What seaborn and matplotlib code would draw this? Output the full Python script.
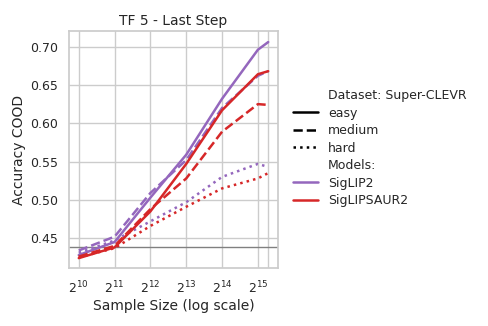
import numpy as np
import pandas as pd
import matplotlib
matplotlib.use("Agg")
import matplotlib.pyplot as plt
from matplotlib.lines import Line2D
import seaborn as sns

sample_sizes = [1024, 2048, 4096, 8192, 16384, 32768, 40000]
tick_labels = ["$2^{10}$", "$2^{11}$", "$2^{12}$", "$2^{13}$", "$2^{14}$", "$2^{15}$", ""]
models = ["SigLIP2", "SigLIPSAUR2"]
difficulties = ["easy", "medium", "hard"]

siglip2_easy = [0.428, 0.445, 0.503, 0.559, 0.632, 0.696, 0.706]
siglip2_medium = [0.434, 0.452, 0.509, 0.552, 0.620, 0.662, 0.668]
siglip2_hard = [0.431, 0.447, 0.472, 0.497, 0.530, 0.547, 0.543]
sigsaur2_easy = [0.424, 0.438, 0.485, 0.547, 0.617, 0.664, 0.668]
sigsaur2_medium = [0.426, 0.440, 0.488, 0.528, 0.589, 0.625, 0.624]
sigsaur2_hard = [0.425, 0.437, 0.466, 0.491, 0.515, 0.528, 0.535]
baseline = 0.439

series = {
    ("SigLIP2", "easy"): siglip2_easy,
    ("SigLIP2", "medium"): siglip2_medium,
    ("SigLIP2", "hard"): siglip2_hard,
    ("SigLIPSAUR2", "easy"): sigsaur2_easy,
    ("SigLIPSAUR2", "medium"): sigsaur2_medium,
    ("SigLIPSAUR2", "hard"): sigsaur2_hard,
}
rows = []
for (m, d), vals in series.items():
    for x, v in zip(sample_sizes, vals):
        rows.append({"Model": m, "Difficulty": d, "Samples": x, "Accuracy": v})
df = pd.DataFrame(rows)

sns.set_theme(style="whitegrid")
plt.rcParams['font.family'] = ['DejaVu Sans']

palette = {"SigLIP2": "#9467bd", "SigLIPSAUR2": "#d62728"}
dashes = {"easy": "", "medium": (3.7, 1.6), "hard": (1, 1.65)}

fig = plt.figure(figsize=(4.88, 3.26), dpi=100)
ax = fig.add_axes([0.142, 0.177, 0.427, 0.728])
sns.lineplot(data=df, x="Samples", y="Accuracy", hue="Model", style="Difficulty",
             palette=palette, dashes=dashes, linewidth=1.8, legend=False, ax=ax)
ax.axhline(baseline, color="gray", linewidth=1.0, zorder=1)
ax.set_xscale("log", base=2)
ax.set_xticks(sample_sizes)
ax.set_xticklabels(tick_labels)
ax.minorticks_off()
ax.set_yticks([0.45, 0.50, 0.55, 0.60, 0.65, 0.70])
ax.set_ylim(0.4107, 0.7205)
ax.tick_params(labelsize=9, pad=2)
ax.set_xlabel("Sample Size (log scale)", fontsize=10, labelpad=2)
ax.set_ylabel("Accuracy COOD", fontsize=10, labelpad=3)
ax.set_title("TF 5 - Last Step", fontsize=10, pad=4)

handles = [Line2D([], [], color="none", label="Dataset: Super-CLEVR")]
for d in difficulties:
    handles.append(Line2D([], [], color="black", linewidth=1.8,
                          linestyle=(0, dashes[d]) if dashes[d] else "-", label=d))
handles.append(Line2D([], [], color="none", label="Models:"))
for m in models:
    handles.append(Line2D([], [], color=palette[m], linewidth=1.8, label=m))
fig.legend(handles=handles, loc="center left", bbox_to_anchor=(0.577, 0.545),
           frameon=False, fontsize=9, handlelength=2.0, labelspacing=0.36,
           handletextpad=0.8)

fig.savefig("out.png", dpi=100)
